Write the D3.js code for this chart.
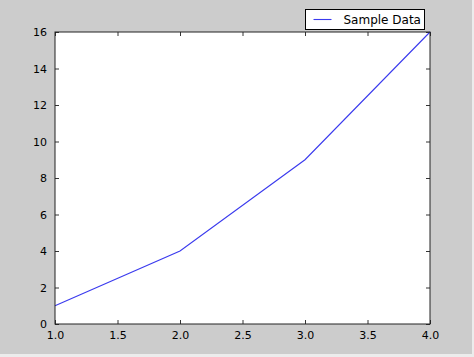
<!DOCTYPE html>
<html>
<head>
<meta charset="utf-8">
<script src="https://cdn.jsdelivr.net/npm/d3@7"></script>
<style>
  body { margin: 0; background: #eeeeee; }
  svg { display: block; }
</style>
</head>
<body>
<div id="chart"></div>
<script>
const xValues = [1, 2, 3, 4];
const yValues = [1, 4, 9, 16];
const xTicks = [1.0, 1.5, 2.0, 2.5, 3.0, 3.5, 4.0];
const yTicks = [0, 2, 4, 6, 8, 10, 12, 14, 16];
const seriesName = "Sample Data";

const width = 474;
const height = 357;
const margin = { top: 32, right: 44, bottom: 33, left: 55 };

const svg = d3.select("#chart")
    .append("svg")
    .attr("width", width)
    .attr("height", height);

// figure background (with the thin light strip on the bottom/right edges)
svg.append("rect")
    .attr("width", width)
    .attr("height", height)
    .attr("fill", "#ececec");
svg.append("rect")
    .attr("width", 472)
    .attr("height", 354)
    .attr("fill", "#cccccc");

const x = d3.scaleLinear()
    .domain([1, 4])
    .range([margin.left, width - margin.right]);

const y = d3.scaleLinear()
    .domain([0, 16])
    .range([height - margin.bottom, margin.top]);

const plotW = x(4) - x(1);
const plotH = y(0) - y(16);

svg.append("rect")
    .attr("x", x(1))
    .attr("y", y(16))
    .attr("width", plotW)
    .attr("height", plotH)
    .attr("fill", "white");

const font = "'DejaVu Sans', sans-serif";

// inward ticks on all four sides, matplotlib classic style
const tickLen = 4;
const axisBottom = svg.append("g")
    .attr("transform", `translate(0,${y(0)})`)
    .call(d3.axisBottom(x).tickValues(xTicks).tickFormat(d3.format(".1f"))
        .tickSizeInner(-tickLen).tickSizeOuter(0).tickPadding(8));
const axisTop = svg.append("g")
    .attr("transform", `translate(0,${y(16)})`)
    .call(d3.axisTop(x).tickValues(xTicks).tickFormat("")
        .tickSizeInner(-tickLen).tickSizeOuter(0));
const axisLeft = svg.append("g")
    .attr("transform", `translate(${x(1)},0)`)
    .call(d3.axisLeft(y).tickValues(yTicks).tickFormat(d3.format("d"))
        .tickSizeInner(-tickLen).tickSizeOuter(0).tickPadding(8));
const axisRight = svg.append("g")
    .attr("transform", `translate(${x(4)},0)`)
    .call(d3.axisRight(y).tickValues(yTicks).tickFormat("")
        .tickSizeInner(-tickLen).tickSizeOuter(0));

[axisBottom, axisTop, axisLeft, axisRight].forEach(g => {
    g.select(".domain").remove();
    g.selectAll(".tick line").attr("stroke", "#000").attr("stroke-width", 0.8);
    g.selectAll("text")
        .attr("fill", "#000")
        .style("font-family", font)
        .style("font-size", "11px");
});
axisBottom.selectAll("text").attr("dy", "0.6em");

const points = xValues.map((d, i) => [d, yValues[i]]);

svg.append("path")
    .datum(points)
    .attr("fill", "none")
    .attr("stroke", "#3a3aee")
    .attr("stroke-width", 1.1)
    .attr("d", d3.line().x(d => x(d[0])).y(d => y(d[1])));

// axes frame
svg.append("rect")
    .attr("x", x(1))
    .attr("y", y(16))
    .attr("width", plotW)
    .attr("height", plotH)
    .attr("fill", "none")
    .attr("stroke", "#222")
    .attr("stroke-width", 1);

// legend
const legend = svg.append("g").attr("transform", "translate(305.5,9.5)");
legend.append("rect")
    .attr("width", 119)
    .attr("height", 20)
    .attr("fill", "white")
    .attr("stroke", "#000")
    .attr("stroke-width", 1);
legend.append("line")
    .attr("x1", 8).attr("x2", 26)
    .attr("y1", 10).attr("y2", 10)
    .attr("stroke", "#3a3aee")
    .attr("stroke-width", 1.1);
legend.append("text")
    .attr("x", 38)
    .attr("y", 10)
    .attr("dy", "0.35em")
    .style("font-family", font)
    .style("font-size", "12px")
    .text(seriesName);
</script>
</body>
</html>
